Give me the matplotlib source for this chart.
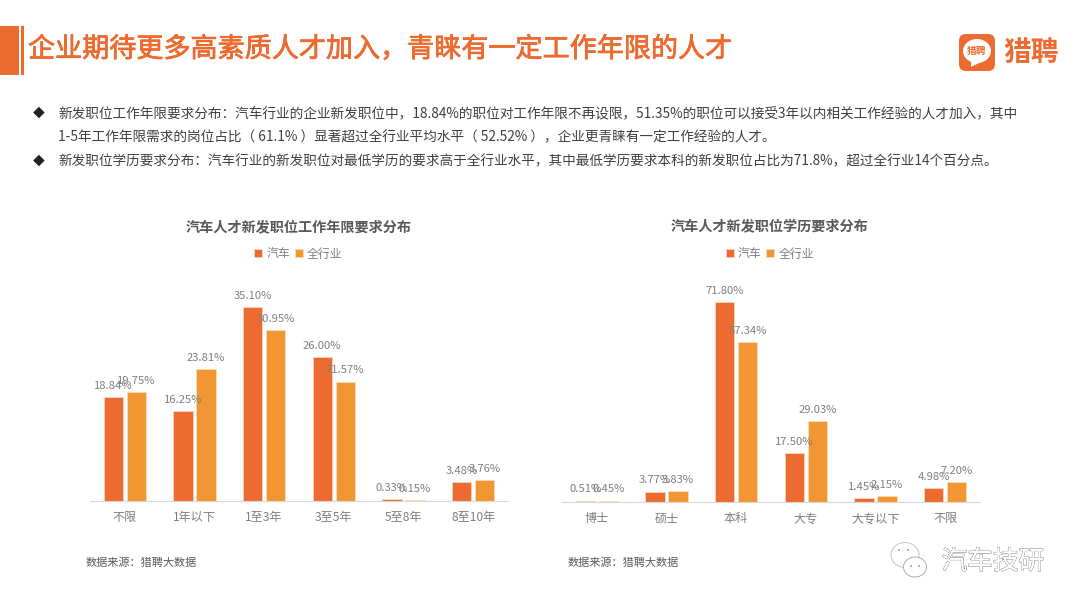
import matplotlib
matplotlib.use("Agg")
import matplotlib.pyplot as plt
from matplotlib.patches import FancyBboxPatch, Ellipse, Rectangle, Polygon
import matplotlib.patheffects as pe
import numpy as np

plt.rcParams['font.family'] = ['Noto Sans CJK SC', 'DejaVu Sans']

W, H = 1080, 608
ORANGE = '#ED6B30'
LIGHT = '#F29633'
GREY = '#7F7F7F'

series_names = ['汽车', '全行业']

years_cats = ['不限', '1年以下', '1至3年', '3至5年', '5至8年', '8至10年']
years_auto = [18.84, 16.25, 35.10, 26.00, 0.33, 3.48]
years_all = [19.75, 23.81, 30.95, 21.57, 0.15, 3.76]

edu_cats = ['博士', '硕士', '本科', '大专', '大专以下', '不限']
edu_auto = [0.51, 3.77, 71.80, 17.50, 1.45, 4.98]
edu_all = [0.45, 3.83, 57.34, 29.03, 2.15, 7.20]

title = '企业期待更多高素质人才加入，青睐有一定工作年限的人才'
body_lines = [
    '新发职位工作年限要求分布：汽车行业的企业新发职位中，18.84%的职位对工作年限不再设限，51.35%的职位可以接受3年以内相关工作经验的人才加入，其中',
    '1-5年工作年限需求的岗位占比（ 61.1% ）显著超过全行业平均水平（ 52.52% ），企业更青睐有一定工作经验的人才。',
    '新发职位学历要求分布：汽车行业的新发职位对最低学历的要求高于全行业水平，其中最低学历要求本科的新发职位占比为71.8%，超过全行业14个百分点。',
]
body_sizes = [9.85, 9.85, 9.8]


def px_axes(fig, left, right, top, bottom):
    return fig.add_axes([left / W, 1 - bottom / H, (right - left) / W, (bottom - top) / H])


def draw_chart(fig, box, ymax, cats, auto, allind, chart_title, title_x, legend_x):
    ax = px_axes(fig, *box)
    x = np.arange(len(cats))
    bw = 0.275
    off = 0.165
    b1 = ax.bar(x - off, auto, bw, color=ORANGE, edgecolor='#F9D5C0', linewidth=0.6, label=series_names[0])
    b2 = ax.bar(x + off, allind, bw, color=LIGHT, edgecolor='#FBDDB8', linewidth=0.6, label=series_names[1])
    for bars, vals in ((b1, auto), (b2, allind)):
        for rect, v in zip(bars, vals):
            ax.annotate(f'{v:.2f}%', (rect.get_x() + rect.get_width() / 2, v),
                        xytext=(0, 4.5), textcoords='offset points',
                        ha='center', va='bottom', fontsize=8.1, color=GREY)
    ax.set_xlim(-0.5, len(cats) - 0.5)
    ax.set_ylim(0, ymax)
    ax.set_xticks(x)
    ax.set_xticklabels(cats, fontsize=8.7, color=GREY)
    ax.tick_params(axis='x', length=0, pad=7.5)
    ax.set_yticks([])
    for s in ('top', 'left', 'right'):
        ax.spines[s].set_visible(False)
    ax.spines['bottom'].set_color('#D9D9D9')
    ax.spines['bottom'].set_linewidth(0.8)
    ax.patch.set_alpha(0)
    fig.text(title_x / W, 1 - 227 / H, chart_title, fontsize=10.2, fontweight='bold',
             color='#595959', ha='center', va='center')
    ax.legend(loc='center', bbox_to_anchor=(legend_x / W, 1 - 254 / H), bbox_transform=fig.transFigure,
              ncol=2, frameon=False, fontsize=8.6, labelcolor=GREY, handlelength=0.65, handleheight=0.65,
              handletextpad=0.35, columnspacing=0.4, borderpad=0)
    return ax


fig = plt.figure(figsize=(W / 100, H / 100), dpi=100, facecolor='white')

# calque plein cadre en pixels pour le bandeau, le logo et le filigrane
bg = fig.add_axes([0, 0, 1, 1])
bg.set_xlim(0, W)
bg.set_ylim(H, 0)
bg.axis('off')

bg.add_patch(Rectangle((0, 26), 19, 49, color=ORANGE, lw=0))
bg.add_patch(Rectangle((21, 26), 2.5, 49, color=ORANGE, lw=0))
t = bg.text(28, 49.5, title, fontsize=19.5, color=ORANGE, va='center', ha='left')
t.set_path_effects([pe.withStroke(linewidth=0.5, foreground=ORANGE), pe.Normal()])

# logo
bg.add_patch(FancyBboxPatch((963, 38), 28, 29, boxstyle='round,pad=4,rounding_size=7', color=ORANGE, lw=0))
bg.add_patch(Ellipse((977, 51), 28, 24, color='white', lw=0))
bg.add_patch(Polygon([(971, 60), (981, 62), (971, 67)], color='white', lw=0))
bg.text(977, 51, '猎聘', fontsize=7, fontweight='bold', color=ORANGE, ha='center', va='center')
bg.text(1031, 53, '猎聘', fontsize=20, fontweight='bold', color=ORANGE, ha='center', va='center')

# texte
for y, line, size in zip((113.5, 137.5, 161.5), body_lines, body_sizes):
    bg.text(58, y, line, fontsize=size, color='#404040', ha='left', va='center')
for y in (113, 161):
    bg.text(39, y, '◆', fontsize=8.5, color='#222222', ha='center', va='center')

draw_chart(fig, (90, 508, 270, 501), 231 / 5.53, years_cats, years_auto, years_all,
           '汽车人才新发职位工作年限要求分布', 299, 298.5)
draw_chart(fig, (562, 980, 270, 502), 232 / 2.785, edu_cats, edu_auto, edu_all,
           '汽车人才新发职位学历要求分布', 770, 770)

bg.text(86, 563, '数据来源：猎聘大数据', fontsize=8, color='#595959', va='center')
bg.text(568, 563, '数据来源：猎聘大数据', fontsize=8, color='#595959', va='center')

# filigrane
bg.add_patch(Ellipse((905, 555), 28, 25, fc='white', ec='#BBBBBB', lw=0.6))
bg.add_patch(Ellipse((915, 567), 23, 20, fc='white', ec='#A0A0A0', lw=0.6))
for cx, cy in ((899, 550), (908, 550), (911, 566), (919, 566)):
    bg.add_patch(Ellipse((cx, cy), 2, 2, color='#A0A0A0', lw=0))
wm = bg.text(993, 562, '汽车技研', fontsize=18.5, color='white', ha='center', va='center')
wm.set_path_effects([pe.withStroke(linewidth=0.7, foreground='#6E6E6E'), pe.Normal()])

fig.savefig('out.png', dpi=100)
